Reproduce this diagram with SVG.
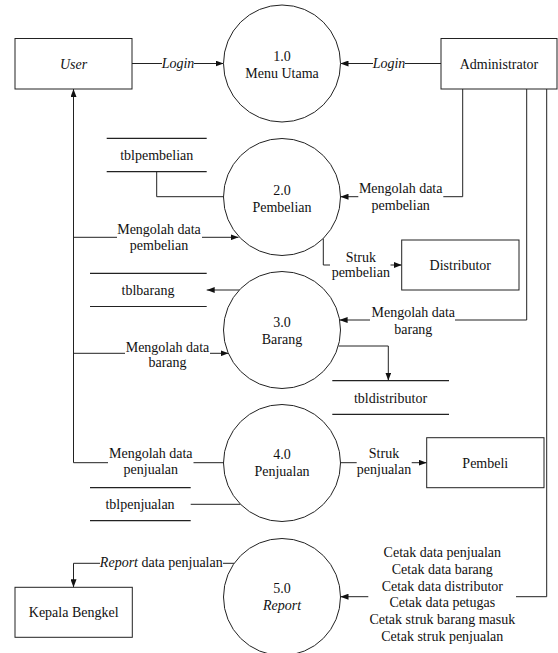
<svg xmlns="http://www.w3.org/2000/svg" width="558" height="653" viewBox="0 0 558 653">
<style>
text{font-family:"Liberation Serif","Times New Roman",serif;font-size:14px;fill:#111;text-anchor:middle}
.i{font-style:italic}
.box{fill:#fff;stroke:#222;stroke-width:1}
.proc{fill:#fff;stroke:#222;stroke-width:1}
.ln{fill:none;stroke:#222;stroke-width:1}
.st{stroke:#222;stroke-width:1.2}
</style>
<defs>
<marker id="ar" viewBox="0 0 8 6" refX="8" refY="3" markerWidth="8" markerHeight="6" markerUnits="userSpaceOnUse" orient="auto">
<path d="M0,0 L8,3 L0,6 z" fill="#111"/>
</marker>
</defs>
<rect width="558" height="653" fill="#fff"/>

<g id="connectors">
<line class="ln" x1="132" y1="63.5" x2="162" y2="63.5"/>
<line class="ln" x1="194" y1="63.5" x2="223.5" y2="63.5" marker-end="url(#ar)"/>
<text class="i" x="178" y="68">Login</text>
<line class="ln" x1="441" y1="63.5" x2="405" y2="63.5"/>
<line class="ln" x1="373" y1="63.5" x2="340.5" y2="63.5" marker-end="url(#ar)"/>
<text class="i" x="389" y="68">Login</text>

<polyline class="ln" points="73.5,462.7 73.5,89" marker-end="url(#ar)"/>
<line class="ln" x1="73.5" y1="237.3" x2="117" y2="237.3"/>
<line class="ln" x1="202" y1="237.3" x2="238.5" y2="237.3" marker-end="url(#ar)"/>
<text x="159" y="233.5">Mengolah data</text>
<text x="159" y="250">pembelian</text>
<line class="ln" x1="73.5" y1="353.3" x2="125" y2="353.3"/>
<line class="ln" x1="210" y1="353.3" x2="228.5" y2="353.3" marker-end="url(#ar)"/>
<text x="167.5" y="351.5">Mengolah data</text>
<text x="167.5" y="367">barang</text>
<line class="ln" x1="73.5" y1="462.7" x2="108" y2="462.7"/>
<line class="ln" x1="193.5" y1="462.7" x2="223.8" y2="462.7"/>
<text x="150.8" y="458.3">Mengolah data</text>
<text x="150.8" y="474">penjualan</text>

<polyline class="ln" points="156.7,171.7 156.7,196.7 223.5,196.7"/>
<line class="ln" x1="239.5" y1="290" x2="206.7" y2="290" marker-end="url(#ar)"/>
<polyline class="ln" points="338.5,346 388.3,346 388.3,380.5" marker-end="url(#ar)"/>
<line class="ln" x1="190.7" y1="504.3" x2="240.6" y2="504.3"/>

<polyline class="ln" points="462.7,89 462.7,196.7 443.3,196.7"/>
<line class="ln" x1="358.3" y1="196.7" x2="340.5" y2="196.7" marker-end="url(#ar)"/>
<text x="400.7" y="193">Mengolah data</text>
<text x="400.7" y="209.5">pembelian</text>
<polyline class="ln" points="526.7,89 526.7,320 455,320"/>
<line class="ln" x1="370" y1="320" x2="339.6" y2="320" marker-end="url(#ar)"/>
<text x="413.3" y="317.3">Mengolah data</text>
<text x="413.3" y="333.5">barang</text>
<polyline class="ln" points="546.7,89 546.7,596.7 516,596.7"/>
<line class="ln" x1="368.3" y1="596.7" x2="340.5" y2="596.7" marker-end="url(#ar)"/>
<text x="442.3" y="557.3">Cetak data penjualan</text>
<text x="442.3" y="574">Cetak data barang</text>
<text x="442.3" y="590.7">Cetak data distributor</text>
<text x="442.3" y="607.4">Cetak data petugas</text>
<text x="442.3" y="624.1">Cetak struk barang masuk</text>
<text x="442.3" y="640.8">Cetak struk penjualan</text>

<polyline class="ln" points="323.3,238.4 323.3,265 330,265"/>
<line class="ln" x1="390.5" y1="265" x2="401.7" y2="265" marker-end="url(#ar)"/>
<text x="360.8" y="261.5">Struk</text>
<text x="360.8" y="276.5">pembelian</text>
<line class="ln" x1="340.5" y1="462.7" x2="356.7" y2="462.7"/>
<line class="ln" x1="411.7" y1="462.7" x2="426.7" y2="462.7" marker-end="url(#ar)"/>
<text x="384" y="458.3">Struk</text>
<text x="384" y="474">penjualan</text>

<line class="ln" x1="234" y1="563.3" x2="223" y2="563.3"/>
<polyline class="ln" points="100,563.3 73.5,563.3 73.5,587.3" marker-end="url(#ar)"/>
<text x="161.3" y="567"><tspan class="i">Report</tspan> data penjualan</text>
</g>

<g id="user"><rect class="box" x="15" y="38.5" width="117" height="50.5"/><text class="i" x="73.5" y="68.5">User</text></g>
<g id="administrator"><rect class="box" x="441" y="38.5" width="116" height="50.5"/><text x="499" y="68.5">Administrator</text></g>
<g id="distributor"><rect class="box" x="401.7" y="240" width="117.3" height="50"/><text x="460.3" y="269.5">Distributor</text></g>
<g id="pembeli"><rect class="box" x="426.7" y="437.7" width="117.3" height="50"/><text x="485.3" y="467.5">Pembeli</text></g>
<g id="kepala-bengkel"><rect class="box" x="15" y="587.3" width="117.3" height="50"/><text x="73.7" y="617">Kepala Bengkel</text></g>

<g id="p1"><circle class="proc" cx="282" cy="63.5" r="58.5"/><text x="282" y="61">1.0</text><text x="282" y="78">Menu Utama</text></g>
<g id="p2"><circle class="proc" cx="282" cy="197" r="58.5"/><text x="282" y="194.5">2.0</text><text x="282" y="211.5">Pembelian</text></g>
<g id="p3"><circle class="proc" cx="282" cy="330" r="58.5"/><text x="282" y="326.5">3.0</text><text x="282" y="343.5">Barang</text></g>
<g id="p4"><circle class="proc" cx="282" cy="463" r="58.5"/><text x="282" y="459">4.0</text><text x="282" y="476">Penjualan</text></g>
<g id="p5"><circle class="proc" cx="282" cy="597" r="58.5"/><text x="282" y="593">5.0</text><text class="i" x="282" y="610">Report</text></g>

<g id="tblpembelian"><line class="st" x1="106.7" y1="138.3" x2="206.7" y2="138.3"/><line class="st" x1="106.7" y1="171.7" x2="206.7" y2="171.7"/><text x="156.7" y="159.5">tblpembelian</text></g>
<g id="tblbarang"><line class="st" x1="90" y1="273.3" x2="206.7" y2="273.3"/><line class="st" x1="90" y1="306.5" x2="206.7" y2="306.5"/><text x="148" y="295">tblbarang</text></g>
<g id="tbldistributor"><line class="st" x1="332.3" y1="380.7" x2="449" y2="380.7"/><line class="st" x1="332.3" y1="414.3" x2="449" y2="414.3"/><text x="390.5" y="403">tbldistributor</text></g>
<g id="tblpenjualan"><line class="st" x1="90" y1="487.7" x2="190.7" y2="487.7"/><line class="st" x1="90" y1="520.7" x2="190.7" y2="520.7"/><text x="140" y="508.5">tblpenjualan</text></g>
</svg>
